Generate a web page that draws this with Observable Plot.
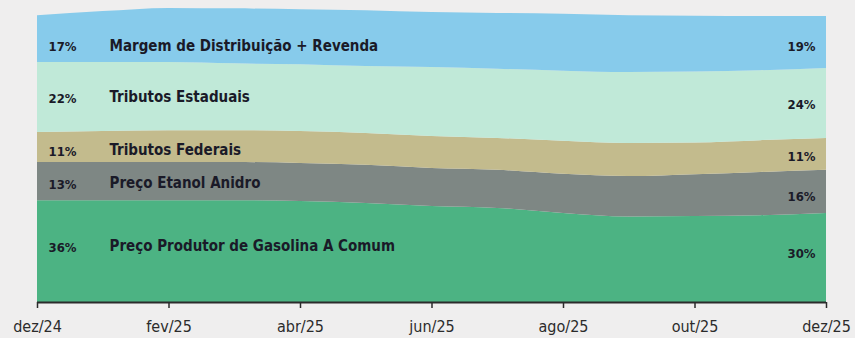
<!DOCTYPE html>
<html>
<head>
<meta charset="utf-8">
<script src="https://cdn.jsdelivr.net/npm/d3@7"></script>
<script src="https://cdn.jsdelivr.net/npm/@observablehq/plot@0.6"></script>
<style>
  html, body { margin: 0; padding: 0; background: #efeeee; }
  #chart { width: 855px; height: 338px; }
  svg { background: #efeeee; }
</style>
</head>
<body>
<div id="chart"></div>
<script>
// Months (x categories)
const months = ["dez/24","jan/25","fev/25","mar/25","abr/25","mai/25","jun/25","jul/25","ago/25","set/25","out/25","nov/25","dez/25"];
// Tick labels (every two months)
const tickMonths = ["dez/24","fev/25","abr/25","jun/25","ago/25","out/25","dez/25"];

// Series, bottom to top
const series = [
  "Preço Produtor de Gasolina A Comum",
  "Preço Etanol Anidro",
  "Tributos Federais",
  "Tributos Estaduais",
  "Margem de Distribuição + Revenda"
];
// Values (R$/litro)
const produtor  = [2.24, 2.24, 2.24, 2.24, 2.22, 2.18, 2.11, 2.07, 1.96, 1.88, 1.89, 1.91, 1.96];
const etanol    = [0.84, 0.84, 0.84, 0.84, 0.84, 0.84, 0.84, 0.84, 0.86, 0.89, 0.92, 0.95, 0.95];
const federais  = [0.66, 0.68, 0.70, 0.70, 0.70, 0.70, 0.70, 0.70, 0.73, 0.73, 0.70, 0.70, 0.70];
const estaduais = [1.54, 1.52, 1.50, 1.47, 1.47, 1.47, 1.52, 1.52, 1.54, 1.56, 1.56, 1.54, 1.54];
const margem    = [1.03, 1.12, 1.19, 1.21, 1.21, 1.23, 1.21, 1.23, 1.25, 1.25, 1.23, 1.19, 1.14];

// Share labels at the start and end
const pctStart = ["36%", "13%", "11%", "22%", "17%"];
const pctEnd   = ["30%", "16%", "11%", "24%", "19%"];

const colors = ["#4cb383", "#7e8784", "#c3bb8d", "#c0e9d8", "#87cbeb"];

const valuesBySeries = [produtor, etanol, federais, estaduais, margem];
const data = [];
series.forEach((s, k) => {
  valuesBySeries[k].forEach((v, i) => {
    data.push({i, month: months[i], s, v, pctStart: pctStart[k], pctEnd: pctEnd[k]});
  });
});

const last = months.length - 1;
const labelFont = "'DejaVu Sans Condensed', 'Liberation Sans Narrow', sans-serif";
const ink = "#1a1a28";

// vertical nudges of labels relative to the layer middle (bottom to top)
const leftNudge  = [-4, 3, 4, 1, 8];
const rightNudge = [-4, 5, 3, 1, 4];

const leftLabels = series.flatMap((s, k) => [
  Plot.text(data, Plot.stackY({
    filter: d => d.i === 0,
    x: "i", y: "v", z: "s",
    text: d => d.s === s ? d.pctStart : null,
    textAnchor: "start", dx: 11, dy: leftNudge[k],
    fontSize: 13, fontWeight: "bold", fill: ink
  })),
  Plot.text(data, Plot.stackY({
    filter: d => d.i === 0,
    x: "i", y: "v", z: "s",
    text: d => d.s === s ? d.s : null,
    textAnchor: "start", dx: 72, dy: leftNudge[k] - 1,
    fontSize: 15, fontWeight: "bold", fill: ink
  }))
]);

const rightLabels = series.map((s, k) =>
  Plot.text(data, Plot.stackY({
    filter: d => d.i === last,
    x: "i", y: "v", z: "s",
    text: d => d.s === s ? d.pctEnd : null,
    textAnchor: "end", dx: -11, dy: rightNudge[k],
    fontSize: 13, fontWeight: "bold", fill: ink
  }))
);

const chart = Plot.plot({
  width: 855,
  height: 338,
  marginLeft: 37,
  marginRight: 29,
  marginTop: 2,
  marginBottom: 36,
  style: {background: "#efeeee", fontFamily: labelFont},
  x: {
    type: "linear",
    domain: [0, last],
    label: null
  },
  y: {domain: [0, 6.6], axis: null},
  color: {domain: series, range: colors},
  marks: [
    Plot.areaY(data, {x: "i", y: "v", z: "s", fill: "s", curve: "monotone-x"}),
    Plot.ruleY([0], {stroke: "#2b2b2b", strokeWidth: 2}),
    Plot.axisX({
      ticks: tickMonths.map(m => months.indexOf(m)),
      tickFormat: i => months[i],
      tickSize: 6,
      tickPadding: 12,
      fontSize: 16,
      stroke: "#2b2b2b",
      strokeWidth: 1.5,
      fill: "#2b2b2b",
      label: null
    }),
    ...leftLabels,
    ...rightLabels
  ]
});

document.getElementById("chart").appendChild(chart);
</script>
</body>
</html>
